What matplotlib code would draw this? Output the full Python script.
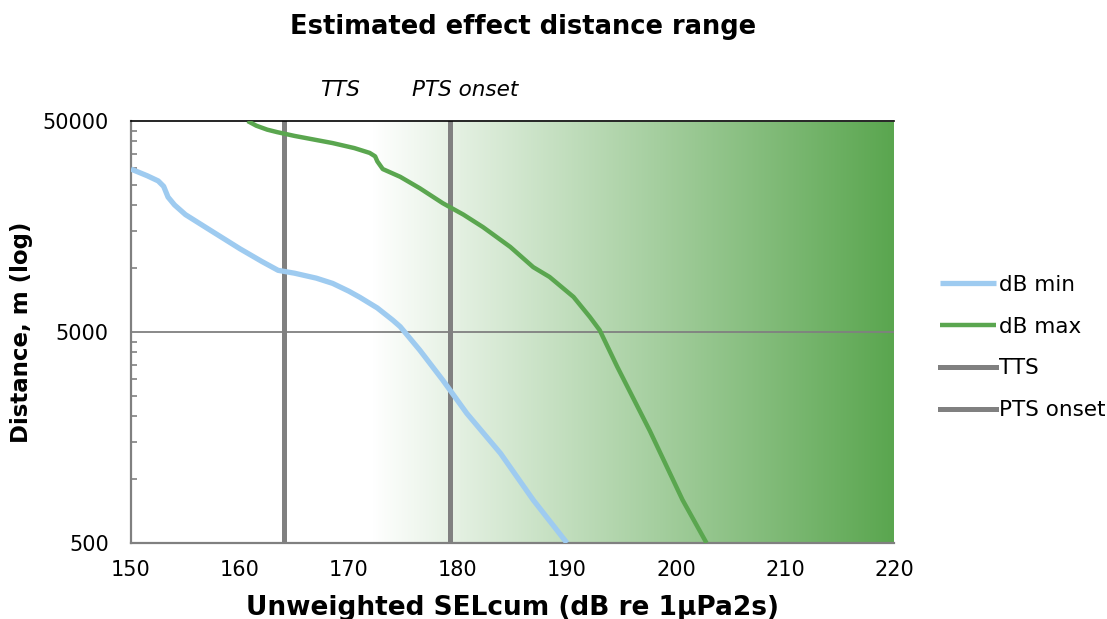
import numpy as np
import matplotlib
matplotlib.use("Agg")
import matplotlib.pyplot as plt
from matplotlib.colors import LinearSegmentedColormap
from matplotlib.ticker import FixedLocator, NullFormatter

# values
sel_min = [150, 151.5, 152.5, 153.0, 153.4, 154.0, 155, 157, 160, 162, 163.5, 165, 167, 168.5,
           170, 171, 172.6, 174, 174.7, 176.5, 178.6, 180.8, 183.9, 186.9, 190]
dist_min = [29600, 27500, 26000, 24500, 21800, 20000, 18000, 15500, 12400, 10800, 9800, 9500,
            9000, 8500, 7800, 7300, 6500, 5700, 5300, 4100, 2960, 2060, 1330, 800, 500]

sel_max = [160.7, 161.5, 162.5, 163.4, 165, 168.5, 170.5, 171.9, 172.4, 172.6, 173.1, 174.7,
           176.5, 178.6, 180.5, 182.3, 184.8, 186.9, 188.4, 190.6, 192.1, 193.0, 194.6, 197.6,
           200.6, 202.8]
dist_max = [50000, 47500, 45500, 44300, 42500, 39300, 37200, 35300, 34000, 32200, 29600, 27200,
            24000, 20400, 18000, 15700, 12650, 10150, 9120, 7330, 5890, 5100, 3430, 1700,
            800, 500]

y_ticks = [500, 5000, 50000]
y_minor = [500 * k for k in range(2, 10)] + [5000 * k for k in range(2, 10)]

tts = 164
pts = 179.3
grad_start = 172

fig = plt.figure(figsize=(11.07, 6.19), dpi=100)
ax = fig.add_axes([0.1183, 0.1228, 0.6893, 0.6817])

green = "#5aa64f"
cmap = LinearSegmentedColormap.from_list("g", ["#ffffff", green])
grad = np.linspace(0, 1, 256).reshape(1, -1)
ax.imshow(grad, extent=[grad_start, 220, 500, 50000], aspect="auto", cmap=cmap,
          origin="lower", zorder=0)

ax.axhline(5000, color="#808080", lw=1.3, zorder=1)
ax.plot(sel_min, dist_min, color="#9ecbf0", lw=3.8, label="dB min", zorder=3,
        solid_capstyle="butt")
ax.plot(sel_max, dist_max, color=green, lw=3.2, label="dB max", zorder=3,
        solid_capstyle="butt")
ax.axvline(tts, color="#808080", lw=3.6, label="TTS", zorder=2)
ax.axvline(pts, color="#808080", lw=3.6, label="PTS onset", zorder=2)

ax.set_yscale("log")
ax.set_xlim(150, 220)
ax.set_ylim(500, 50000)
ax.set_xticks(range(150, 221, 10))
ax.yaxis.set_major_locator(FixedLocator(y_ticks))
ax.yaxis.set_major_formatter(plt.FuncFormatter(lambda v, p: "%d" % v))
ax.yaxis.set_minor_locator(FixedLocator(y_minor))
ax.yaxis.set_minor_formatter(NullFormatter())
ax.tick_params(axis="both", which="major", length=0, labelsize=15)
ax.tick_params(axis="x", which="major", pad=12)
ax.tick_params(axis="y", which="major", pad=16)
ax.tick_params(axis="y", which="minor", direction="in", length=4, width=1.2, color="#808080")

for s in ["left", "bottom"]:
    ax.spines[s].set_color("#808080")
    ax.spines[s].set_linewidth(1.6)
ax.spines["top"].set_color("black")
ax.spines["top"].set_linewidth(1.2)
ax.spines["right"].set_visible(False)

ax.set_xlabel("Unweighted SELcum (dB re 1μPa2s)", fontsize=19, fontweight="bold", labelpad=11)
ax.set_ylabel("Distance, m (log)", fontsize=16.5, fontweight="bold", labelpad=7)
fig.text(523 / 1107, 1 - 27 / 619, "Estimated effect distance range", ha="center", va="center",
         fontsize=18.5, fontweight="bold")

ax.text(169.2, 1.073, "TTS", transform=ax.get_xaxis_transform(), ha="center", va="center",
        fontsize=15.5, style="italic")
ax.text(180.7, 1.073, "PTS onset", transform=ax.get_xaxis_transform(), ha="center", va="center",
        fontsize=15.5, style="italic")

fig.legend(loc="center left", bbox_to_anchor=(0.849, 0.4386), frameon=False, fontsize=15.5,
           handlelength=2.6, handletextpad=0.15, labelspacing=1.02, borderpad=0,
           borderaxespad=0)

fig.savefig("out.png", dpi=100)
